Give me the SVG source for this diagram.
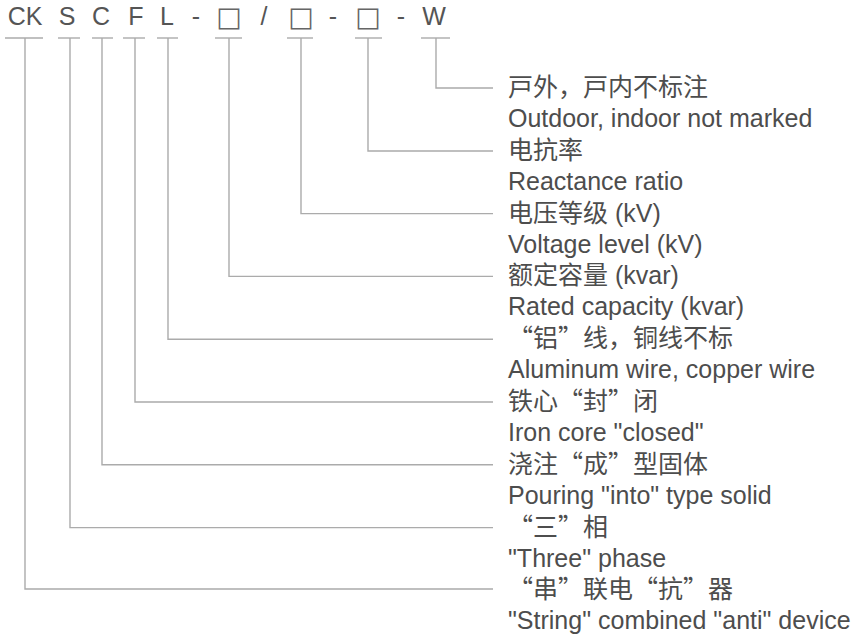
<svg xmlns="http://www.w3.org/2000/svg" width="856" height="636" viewBox="0 0 856 636">
<style>
  .hd { font-family: "Liberation Sans", Arial, "Noto Sans CJK SC", "DejaVu Sans", sans-serif; font-size: 25px; fill: #555; text-anchor: middle; }
  .sq { font-family: "DejaVu Sans", "Noto Sans CJK SC", sans-serif; font-size: 27px; fill: #666; text-anchor: middle; }
  .lb { font-family: "Liberation Sans", Arial, "Noto Sans CJK SC", sans-serif; font-size: 25px; fill: #4d4d4d; }
  .cn { font-family: "Noto Sans CJK SC", "Liberation Sans", sans-serif; font-size: 25px; fill: #4d4d4d; }
  .la { font-family: "Liberation Sans", Arial, sans-serif; font-size: 25px; }
  .ln { fill: none; stroke: #ababab; stroke-width: 1.4; }
</style>
<rect width="856" height="636" fill="#ffffff"/>

<g id="sep">
  <text class="hd" x="196" y="25">-</text>
  <text class="hd" x="264" y="25">/</text>
  <text class="hd" x="333" y="25">-</text>
  <text class="hd" x="401" y="25">-</text>
</g>

<g id="connectors">
  <line class="ln" x1="5" y1="38" x2="43" y2="38"/>
  <line class="ln" x1="58" y1="38" x2="80" y2="38"/>
  <line class="ln" x1="92" y1="38" x2="113" y2="38"/>
  <line class="ln" x1="123" y1="38" x2="145" y2="38"/>
  <line class="ln" x1="157" y1="38" x2="178" y2="38"/>
  <line class="ln" x1="215" y1="38" x2="242" y2="38"/>
  <line class="ln" x1="287" y1="38" x2="313" y2="38"/>
  <line class="ln" x1="355" y1="38" x2="382" y2="38"/>
  <line class="ln" x1="421" y1="38" x2="450" y2="38"/>
  <polyline class="ln" points="436,38 436,88 493,88"/>
  <polyline class="ln" points="368,38 368,151 493,151"/>
  <polyline class="ln" points="301,38 301,213.6 493,213.6"/>
  <polyline class="ln" points="229,38 229,276.4 493,276.4"/>
  <polyline class="ln" points="168,38 168,339.2 493,339.2"/>
  <polyline class="ln" points="135,38 135,402 493,402"/>
  <polyline class="ln" points="102,38 102,464.8 493,464.8"/>
  <polyline class="ln" points="70,38 70,527.6 493,527.6"/>
  <polyline class="ln" points="25,38 25,589 493,589"/>
</g>

<g id="node-W">
  <text class="hd" x="434" y="25">W</text>
  <text class="cn" x="508" y="96">戸外，戸内不标注</text>
  <text class="lb" x="508" y="127">Outdoor, indoor not marked</text>
</g>
<g id="node-reactance">
  <text class="sq" x="368" y="26">□</text>
  <text class="cn" x="508" y="158.8">电抗率</text>
  <text class="lb" x="508" y="189.8">Reactance ratio</text>
</g>
<g id="node-voltage">
  <text class="sq" x="301" y="26">□</text>
  <text class="cn" x="508" y="221.6">电压等级<tspan class="la"> (kV)</tspan></text>
  <text class="lb" x="508" y="252.6">Voltage level (kV)</text>
</g>
<g id="node-capacity">
  <text class="sq" x="229" y="26">□</text>
  <text class="cn" x="508" y="284.4">额定容量<tspan class="la"> (kvar)</tspan></text>
  <text class="lb" x="508" y="315.4">Rated capacity (kvar)</text>
</g>
<g id="node-L">
  <text class="hd" x="167" y="25">L</text>
  <text class="cn" x="508" y="347.2">“铝”线，铜线不标</text>
  <text class="lb" x="508" y="378.2">Aluminum wire, copper wire</text>
</g>
<g id="node-F">
  <text class="hd" x="136" y="25">F</text>
  <text class="cn" x="508" y="410">铁心“封”闭</text>
  <text class="lb" x="508" y="441">Iron core "closed"</text>
</g>
<g id="node-C">
  <text class="hd" x="101" y="25">C</text>
  <text class="cn" x="508" y="472.8">浇注“成”型固体</text>
  <text class="lb" x="508" y="503.8">Pouring "into" type solid</text>
</g>
<g id="node-S">
  <text class="hd" x="67" y="25">S</text>
  <text class="cn" x="508" y="535.6">“三”相</text>
  <text class="lb" x="508" y="566.6">"Three" phase</text>
</g>
<g id="node-CK">
  <text class="hd" x="25" y="25">CK</text>
  <text class="cn" x="508" y="598.4">“串”联电“抗”器</text>
  <text class="lb" x="508" y="629.4">"String" combined "anti" device</text>
</g>
</svg>
